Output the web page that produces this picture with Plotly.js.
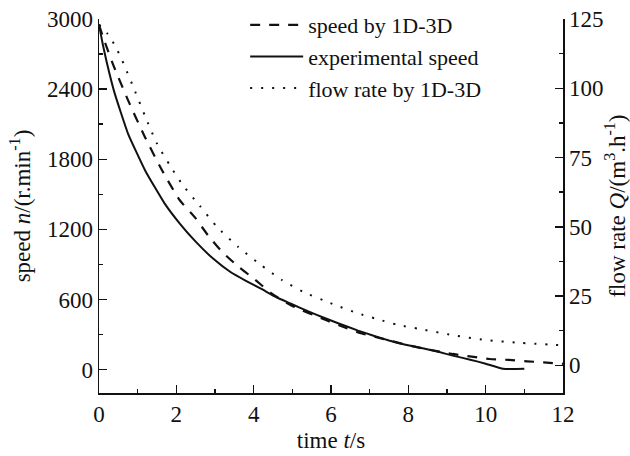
<!DOCTYPE html>
<html>
<head>
<meta charset="utf-8">
<script src="https://cdn.plot.ly/plotly-3.0.1.min.js"></script>
<style>html,body{margin:0;padding:0;background:#fff;}#chart{width:630px;height:456px;}</style>
</head>
<body>
<div id="chart"></div>
<script>
// Experimental speed (r/min)
var expT = [0, 0.1, 0.2, 0.4, 0.75, 1.2, 1.7, 2.1, 2.5, 2.95, 3.4, 3.8, 4.2, 4.6, 4.95, 5.4, 5.8, 6.2, 6.7, 7.1, 7.5, 7.9, 8.4, 8.8, 9.15, 9.6, 10.0, 10.45, 11.0];
var expN = [2950, 2780, 2630, 2370, 2020, 1700, 1420, 1245, 1095, 950, 835, 760, 690, 617, 566, 500, 446, 395, 334, 290, 249, 215, 180, 150, 120, 85, 51, 8, 8];
// Speed by 1D-3D (r/min)
var simT = [0, 0.16, 0.37, 0.75, 1.19, 1.63, 2.09, 2.48, 2.82, 3.2, 3.6, 4.03, 4.47, 5.0, 5.9, 6.36, 6.8, 7.27, 7.8, 8.4, 9.15, 9.64, 10.1, 10.6, 11.07, 11.5, 12];
var simN = [2950, 2794, 2606, 2306, 1989, 1706, 1449, 1303, 1149, 1003, 883, 771, 651, 545, 420, 360, 309, 270, 225, 180, 134, 111, 91, 83, 71, 62, 50];
// Flow rate by 1D-3D (m3/h)
var flowT = [0, 0.23, 0.41, 0.6, 0.93, 1.19, 1.5, 1.84, 2.17, 2.61, 3.05, 3.6, 4.16, 4.73, 5.28, 5.8, 6.1, 6.67, 7.19, 7.73, 8.3, 9.15, 10.0, 10.9, 12];
var flowQ = [123, 119.5, 115.5, 110, 99, 90, 80, 72, 65, 57.5, 50, 42.7, 36.5, 30.8, 26.5, 23.5, 21.8, 18.9, 16.7, 14.6, 13.1, 10.9, 9.1, 8.1, 7.2];

var xTicks = [0, 2, 4, 6, 8, 10, 12];
var nTicks = [0, 600, 1200, 1800, 2400, 3000];
var qTicks = [0, 25, 50, 75, 100, 125];

var FONT = 'Liberation Serif, Times New Roman, serif';
var INK = '#111';
var FS = 23;

var traces = [
  {x: simT, y: simN, name: 'speed by 1D-3D', type: 'scatter', mode: 'lines',
   line: {color: INK, width: 2.2, dash: '10px,9px', shape: 'spline', smoothing: 0.6}},
  {x: expT, y: expN, name: 'experimental speed', type: 'scatter', mode: 'lines',
   line: {color: INK, width: 2, shape: 'spline', smoothing: 0.4}},
  {x: flowT, y: flowQ, name: 'flow rate by 1D-3D', type: 'scatter', mode: 'lines', yaxis: 'y2',
   line: {color: INK, width: 2, dash: '2px,9px', shape: 'spline', smoothing: 0.6}}
];

var axisCommon = {
  showline: true, linecolor: INK, linewidth: 1.5, showgrid: false, zeroline: false,
  ticks: 'inside', ticklen: 8, tickwidth: 1.5, tickcolor: INK,
  tickfont: {family: FONT, size: FS, color: INK}
};

var layout = {
  width: 630, height: 456,
  margin: {l: 99, r: 67, t: 19, b: 63, autoexpand: false},
  paper_bgcolor: '#fff', plot_bgcolor: '#fff',
  font: {family: FONT, size: FS, color: INK},
  showlegend: true,
  legend: {x: 0.315, y: 1.04, xanchor: 'left', yanchor: 'top', bgcolor: 'rgba(0,0,0,0)',
           font: {family: FONT, size: 22, color: INK}, tracegroupgap: 0, itemwidth: 53},
  xaxis: Object.assign({}, axisCommon, {
    range: [0, 12], tickvals: xTicks, ticktext: xTicks.map(String),
    minor: {dtick: 1, ticks: 'inside', ticklen: 4, tickwidth: 1.5, tickcolor: INK},
    title: {text: 'time <i>t</i>/s', font: {family: FONT, size: FS, color: INK}, standoff: 6}
  }),
  yaxis: Object.assign({}, axisCommon, {
    range: [-200, 3000], tickvals: nTicks, ticktext: nTicks.map(String),
    minor: {dtick: 300, ticks: 'inside', ticklen: 4, tickwidth: 1.5, tickcolor: INK},
    title: {text: 'speed <i>n</i>/(r.min<sup>-1</sup>)', font: {family: FONT, size: FS, color: INK}, standoff: 10}
  }),
  yaxis2: Object.assign({}, axisCommon, {
    overlaying: 'y', side: 'right', anchor: 'x',
    range: [-10, 125], tickvals: qTicks, ticktext: qTicks.map(String),
    minor: {dtick: 12.5, ticks: 'inside', ticklen: 4, tickwidth: 1.5, tickcolor: INK},
    title: {text: 'flow rate <i>Q</i>/(m<sup>3</sup>.h<sup>-1</sup>)', font: {family: FONT, size: FS, color: INK}, standoff: 6}
  })
};

Plotly.newPlot('chart', traces, layout, {staticPlot: true, displayModeBar: false});
</script>
</body>
</html>
